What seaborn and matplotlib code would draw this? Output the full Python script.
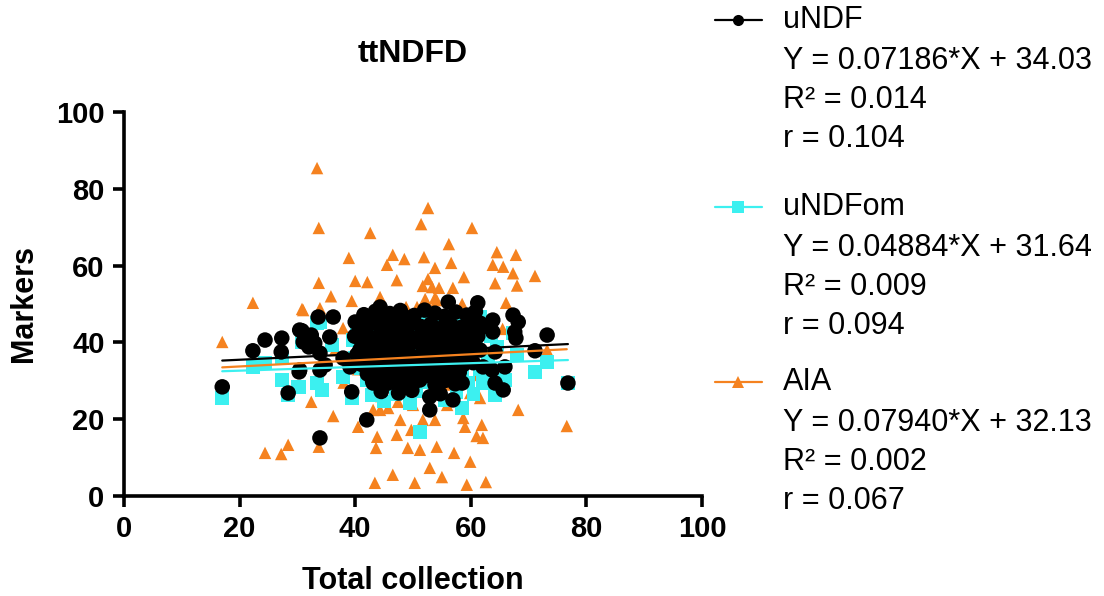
import matplotlib
matplotlib.use("Agg")
import matplotlib.pyplot as plt
from matplotlib.lines import Line2D
import seaborn as sns
import pandas as pd

# values (Total collection, Markers)
undf_x = [17.0, 22.3, 24.4, 27.3, 27.2, 30.3, 28.4, 30.8, 32.4, 32.0, 33.6, 33.9, 30.4, 36.2, 31.0,
          33.0, 35.6, 33.9, 34.8, 30.4, 33.9, 39.4, 42.0, 40.0, 37.9, 39.1, 40.8, 44.3, 42.9, 44.8,
          46.5, 48.6, 56.1, 61.2, 51.2, 52.9, 52.9, 56.9, 58.5, 63.8, 63.8, 43.1, 45.7, 67.3, 68.2,
          67.6, 67.8, 73.2, 71.1, 61.6, 64.2, 65.9, 63.7, 62.1, 64.2, 65.6, 76.8, 61.6,
          41.5, 43.5, 46.0, 47.8, 50.2, 52.0, 53.8, 55.5, 57.4, 59.3, 60.8,
          40.8, 42.6, 44.4, 46.2, 48.0, 49.7, 51.4, 53.1, 54.9, 56.6, 58.3, 60.1, 62.0,
          39.9, 41.9, 43.7, 45.4, 47.3, 49.0, 50.8, 52.5, 54.2, 56.0, 57.7, 59.4, 61.2,
          41.2, 43.0, 44.8, 46.4, 48.3, 50.0, 51.7, 53.4, 55.2, 56.9, 58.6, 60.3,
          40.3, 42.2, 43.9, 45.6, 47.4, 49.1, 50.9, 52.6, 54.4, 56.1, 57.8, 59.6,
          41.0, 42.8, 44.6, 46.3, 48.1, 49.8, 51.6, 53.3, 55.1, 56.8, 58.7, 60.4,
          42.1, 43.9, 45.7, 47.4, 49.2, 51.0, 52.7, 54.5, 56.3, 58.0,
          43.0, 44.9, 46.8, 48.6, 50.4, 53.8, 55.6, 57.3,
          44.5, 47.5, 49.8, 54.7]
undf_y = [28.4, 37.8, 40.6, 41.1, 37.5, 32.3, 26.8, 43.0, 41.9, 38.8, 46.6, 15.1, 43.2, 46.6, 40.1,
          39.8, 41.4, 37.2, 34.1, 32.8, 32.8, 27.1, 19.8, 45.3, 35.9, 33.6, 38.0, 49.2, 46.6, 46.6,
          45.3, 46.6, 50.5, 50.3, 30.2, 25.8, 22.4, 25.0, 29.4, 45.8, 42.7, 29.4, 29.4, 47.1, 45.3,
          42.7, 41.1, 41.9, 37.8, 38.0, 37.5, 33.6, 32.8, 33.6, 29.4, 27.6, 29.4, 45.0,
          47.2, 48.1, 47.5, 48.3, 47.0, 48.4, 47.6, 46.8, 47.9, 47.1, 48.0,
          44.2, 44.9, 43.8, 44.6, 43.9, 45.0, 44.1, 44.8, 43.7, 44.5, 43.9, 44.8, 44.0,
          41.6, 42.4, 41.3, 42.2, 41.5, 42.6, 41.2, 42.3, 41.4, 42.5, 41.3, 42.2, 41.6,
          39.3, 40.0, 38.9, 39.8, 39.1, 40.1, 38.8, 39.7, 39.0, 40.2, 39.2, 39.9,
          36.8, 37.5, 36.4, 37.3, 36.6, 37.6, 36.3, 37.4, 36.5, 37.5, 36.7, 37.2,
          34.3, 35.0, 34.0, 34.9, 34.2, 35.1, 33.9, 34.8, 34.1, 35.0, 34.2, 34.7,
          31.8, 32.5, 31.5, 32.4, 31.7, 32.6, 31.4, 32.3, 31.6, 32.2,
          30.0, 29.1, 30.2, 29.3, 29.9, 29.0, 30.1, 29.2,
          27.2, 26.8, 27.5, 26.6]

undfom_x = [17.0, 22.3, 24.4, 27.3, 28.4, 30.1, 27.3, 30.8, 33.4, 33.4, 33.9, 36.0, 30.4, 34.3, 37.9,
            39.4, 39.6, 42.9, 51.2, 58.5, 56.4, 61.6, 67.3, 68.0, 71.1, 73.2, 76.8, 65.9, 64.2, 62.1,
            41.0, 44.5, 48.0, 51.5, 55.0, 58.5, 62.5,
            40.2, 43.0, 46.5, 50.0, 53.5, 57.0, 60.5, 63.5,
            41.5, 44.0, 47.0, 50.5, 54.0, 57.5, 61.0, 64.5,
            40.0, 43.0, 46.0, 49.5, 53.0, 56.5, 60.0, 63.0,
            41.0, 44.5, 48.0, 51.5, 55.0, 58.5, 61.5,
            42.0, 45.5, 49.0, 52.5, 56.0, 59.5, 63.0,
            43.5, 47.0, 50.5, 54.0, 57.5, 60.5,
            45.0, 49.5, 55.5]
undfom_y = [25.5, 33.6, 34.6, 30.2, 26.3, 28.4, 35.9, 40.1, 45.0, 29.4, 45.3, 39.3, 28.4, 27.6, 31.0,
            25.5, 40.6, 26.3, 16.7, 22.9, 46.6, 46.6, 42.4, 36.7, 32.3, 34.9, 29.4, 30.2, 26.3, 29.4,
            45.2, 44.6, 45.4, 44.8, 45.3, 44.7, 45.1,
            42.3, 41.8, 42.5, 41.7, 42.4, 41.9, 42.2, 41.6,
            39.2, 38.7, 39.4, 38.8, 39.3, 38.6, 39.1, 38.9,
            36.1, 35.6, 36.3, 35.7, 36.2, 35.5, 36.0, 35.8,
            33.2, 32.6, 33.4, 32.8, 33.1, 32.5, 33.0,
            30.1, 29.6, 30.3, 29.7, 30.2, 29.5, 30.0,
            27.2, 26.6, 27.3, 26.8, 27.1, 26.5,
            24.6, 24.2, 24.8]

aia_x = [17.0, 22.3, 30.8, 33.4, 33.7, 33.7, 32.4, 24.4, 27.2, 28.4, 33.7,
         42.6, 52.6, 51.4, 38.9, 46.5, 48.5, 45.5, 51.9, 53.8, 40.0, 42.1, 47.2, 52.6, 51.7, 35.8,
         39.4, 44.3, 31.0, 33.9, 48.8, 50.7, 52.1, 53.8, 53.3,
         60.2, 56.2, 64.5, 67.8, 56.6, 63.8, 65.6, 67.3, 71.1, 58.8, 64.2, 68.0, 54.5, 56.9, 54.1,
         58.5, 66.1,
         37.9, 36.2, 40.5, 43.1, 44.3, 45.7, 47.4, 47.8, 50.0, 43.8, 43.6, 47.2, 49.7, 49.1, 51.2,
         46.5, 43.4, 50.3, 52.9, 54.1, 51.7,
         59.9, 61.6, 55.9, 53.8, 58.7, 59.0, 61.9, 61.0, 62.1, 68.2, 57.1, 59.9, 55.0, 59.3, 62.6,
         73.2, 76.6,
         40.5, 44.0, 47.0, 50.5, 53.5, 57.0, 60.0, 46.0, 55.5, 42.0, 58.0, 49.0, 63.0, 65.5, 36.5,
         52.0, 56.0, 44.5, 61.0, 38.0]
aia_y = [40.1, 50.3, 48.7, 85.4, 69.8, 55.5, 24.5, 11.2, 10.9, 13.3, 12.8,
         68.5, 75.0, 70.8, 62.0, 62.8, 61.7, 60.2, 62.2, 59.4, 56.0, 55.7, 56.2, 56.5, 54.7, 52.0,
         50.8, 51.8, 48.4, 48.9, 49.2, 49.2, 51.3, 51.6, 54.4,
         69.8, 65.6, 63.5, 62.8, 60.7, 60.2, 59.7, 58.0, 57.3, 57.0, 55.4, 54.8, 54.2, 54.2, 51.0,
         50.0, 50.3,
         43.7, 20.8, 18.0, 22.4, 22.4, 22.9, 24.5, 19.8, 23.7, 15.4, 12.5, 15.9, 17.2, 12.5, 12.0,
         5.5, 3.4, 3.4, 7.3, 12.8, 19.8,
         26.8, 25.5, 23.7, 19.8, 20.3, 18.0, 18.5, 15.6, 15.1, 22.4, 11.2, 8.9, 4.9, 2.9, 3.6,
         38.0, 18.2,
         33.0, 38.0, 43.5, 36.5, 41.0, 34.0, 39.5, 30.5, 46.5, 45.5, 44.0, 28.0, 37.0, 43.5, 38.0,
         47.0, 29.0, 26.0, 31.5, 29.5]

series = ["uNDF", "uNDFom", "AIA"]
slopes = [0.07186, 0.04884, 0.07940]
intercepts = [34.03, 31.64, 32.13]
r2 = ["0.014", "0.009", "0.002"]
r_vals = ["0.104", "0.094", "0.067"]

colors = {"uNDF": "#000000", "uNDFom": "#3CF0F0", "AIA": "#F5821F"}
markers = {"uNDF": "o", "uNDFom": "s", "AIA": "^"}
sizes = {"uNDF": 125, "uNDFom": 95, "AIA": 80}

df = pd.concat([
    pd.DataFrame({"x": undf_x, "y": undf_y, "set": "uNDF"}),
    pd.DataFrame({"x": undfom_x, "y": undfom_y, "set": "uNDFom"}),
    pd.DataFrame({"x": aia_x, "y": aia_y, "set": "AIA"}),
])

sns.set_style("ticks")
plt.rcParams["font.family"] = ["Liberation Sans", "DejaVu Sans"]
plt.rcParams["text.color"] = "black"
plt.rcParams["axes.labelcolor"] = "black"
plt.rcParams["xtick.color"] = "black"
plt.rcParams["ytick.color"] = "black"
plt.rcParams["axes.edgecolor"] = "black"

fig = plt.figure(figsize=(11.04, 5.96), dpi=100)
ax = fig.add_axes([0.1123, 0.168, 0.5236, 0.644])

# AIA drawn first so the black dots sit on top
for name in ["AIA", "uNDFom", "uNDF"]:
    sub = df[df["set"] == name]
    sns.scatterplot(data=sub, x="x", y="y", ax=ax, color=colors[name], marker=markers[name],
                    s=sizes[name], edgecolor="none", linewidth=0, legend=False, zorder=2)

# fitted lines from the printed equations, over each series' x range
for name, k, b in zip(series, slopes, intercepts):
    sub = df[df["set"] == name]
    xs = [sub["x"].min(), sub["x"].max()]
    sns.lineplot(x=xs, y=[k * v + b for v in xs], ax=ax, color=colors[name], lw=1.6, zorder=3)

ax.set_xlim(0, 100)
ax.set_ylim(0, 100)
ax.set_xticks(range(0, 101, 20))
ax.set_yticks(range(0, 101, 20))
for sp in ["top", "right"]:
    ax.spines[sp].set_visible(False)
for sp in ["left", "bottom"]:
    ax.spines[sp].set_linewidth(2.6)
    ax.spines[sp].set_color("black")
ax.tick_params(width=2.6, length=8, labelsize=21, pad=6, colors="black")
for lab in ax.get_xticklabels() + ax.get_yticklabels():
    lab.set_fontweight("bold")
ax.set_xlabel("Total collection", fontsize=22, fontweight="bold", labelpad=16, color="black")
ax.set_ylabel("Markers", fontsize=22, fontweight="bold", labelpad=12, color="black")
ax.set_title("ttNDFD", fontsize=23, fontweight="bold", pad=36, color="black")

# legend block on the right
tops = [20, 207, 382]
offs = [0, 41, 80, 119]
W, H = 1104, 596
for i, name in enumerate(series):
    y0 = 1 - tops[i] / H
    fig.add_artist(Line2D([715 / W, 762 / W], [y0, y0], color=colors[name], lw=1.6,
                          transform=fig.transFigure))
    fig.add_artist(Line2D([738.5 / W], [y0], color=colors[name], marker=markers[name],
                          markersize=8, markeredgewidth=0, transform=fig.transFigure))
    lines = [name,
             f"Y = {slopes[i]:.5f}*X + {intercepts[i]:.2f}",
             f"R\u00b2 = {r2[i]}",
             f"r = {r_vals[i]}"]
    for j, t in enumerate(lines):
        fig.text(783 / W, 1 - (tops[i] + offs[j]) / H, t, fontsize=22, va="center", ha="left",
                 color="black")

fig.savefig("out.png", dpi=100)
